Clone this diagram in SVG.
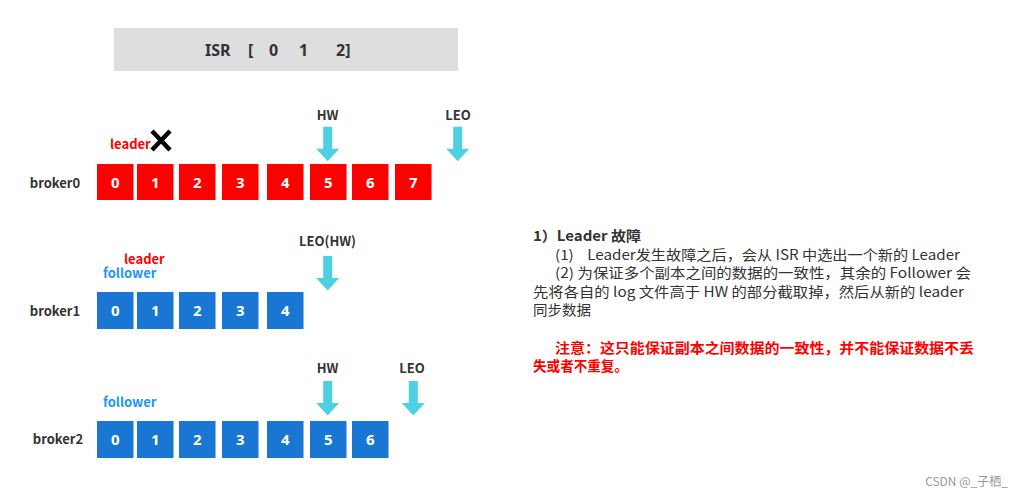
<svg xmlns="http://www.w3.org/2000/svg" width="1023" height="497" viewBox="0 0 1023 497">
<style>
text{font-family:"Noto Sans CJK SC","Liberation Sans",sans-serif}
.r{fill:#FF0000}
.b{fill:#1976D2}
.n{fill:#fff;font-size:15px;font-weight:bold;text-anchor:middle;font-family:"Noto Sans","Liberation Sans",sans-serif}
.lbl{fill:#333;font-size:13px;font-weight:bold;text-anchor:middle}
.ptr{fill:#333;font-size:13px;font-weight:bold;text-anchor:middle}
.ar{fill:#4DD0E1}
.t{fill:#333;font-size:14px}
.red{fill:#FF0000;font-size:14px;font-weight:bold}
.isr{fill:#333;font-size:16px;font-weight:bold;font-family:"Noto Sans","Liberation Sans",sans-serif}
</style>
<defs>
<path id="arr" class="ar" d="M-4.5,0 H4.5 V22 H11.5 L0,34.5 L-11.5,22 H-4.5 Z"/>
</defs>
<rect width="1023" height="497" fill="#fff"/>
<g id="isr">
<rect x="114" y="28" width="344" height="43" fill="#DEDEDE"/>
<text class="isr" y="56"><tspan x="205">ISR</tspan><tspan x="248">[</tspan><tspan x="269">0</tspan><tspan x="299">1</tspan><tspan x="336">2]</tspan></text>
</g>
<g id="broker0">
<text class="lbl" x="55" y="188">broker0</text>
<text x="110" y="149" fill="#FF0000" font-size="13" font-weight="bold">leader</text>
<path d="M152,131 L170,150 M170,131 L152,150" stroke="#000" stroke-width="4.5"/>
<rect class="r" x="97" y="164" width="36.5" height="36"/><text class="n" x="115.3" y="187.5">0</text>
<rect class="r" x="137" y="164" width="36.5" height="36"/><text class="n" x="155.3" y="187.5">1</text>
<rect class="r" x="179" y="164" width="36.5" height="36"/><text class="n" x="197.3" y="187.5">2</text>
<rect class="r" x="222" y="164" width="36.5" height="36"/><text class="n" x="240.3" y="187.5">3</text>
<rect class="r" x="267" y="164" width="36.5" height="36"/><text class="n" x="285.3" y="187.5">4</text>
<rect class="r" x="310" y="164" width="36.5" height="36"/><text class="n" x="328.3" y="187.5">5</text>
<rect class="r" x="352" y="164" width="36.5" height="36"/><text class="n" x="370.3" y="187.5">6</text>
<rect class="r" x="395" y="164" width="36.5" height="36"/><text class="n" x="413.3" y="187.5">7</text>
<text class="ptr" x="327.5" y="120">HW</text>
<text class="ptr" x="458" y="120">LEO</text>
</g>
<g id="broker1">
<text class="lbl" x="55" y="316">broker1</text>
<text x="124" y="264" fill="#FF0000" font-size="13" font-weight="bold">leader</text>
<text x="103" y="278" fill="#2196F3" font-size="13" font-weight="bold">follower</text>
<rect class="b" x="97" y="292" width="36.5" height="37"/><text class="n" x="115.3" y="316">0</text>
<rect class="b" x="137" y="292" width="36.5" height="37"/><text class="n" x="155.3" y="316">1</text>
<rect class="b" x="179" y="292" width="36.5" height="37"/><text class="n" x="197.3" y="316">2</text>
<rect class="b" x="222" y="292" width="36.5" height="37"/><text class="n" x="240.3" y="316">3</text>
<rect class="b" x="267" y="292" width="36.5" height="37"/><text class="n" x="285.3" y="316">4</text>
<text class="ptr" x="327.5" y="246">LEO(HW)</text>
</g>
<g id="broker2">
<text class="lbl" x="58" y="444">broker2</text>
<text x="103" y="407" fill="#2196F3" font-size="13" font-weight="bold">follower</text>
<rect class="b" x="97" y="421" width="36.5" height="37"/><text class="n" x="115.3" y="445">0</text>
<rect class="b" x="137" y="421" width="36.5" height="37"/><text class="n" x="155.3" y="445">1</text>
<rect class="b" x="179" y="421" width="36.5" height="37"/><text class="n" x="197.3" y="445">2</text>
<rect class="b" x="222" y="421" width="36.5" height="37"/><text class="n" x="240.3" y="445">3</text>
<rect class="b" x="267" y="421" width="36.5" height="37"/><text class="n" x="285.3" y="445">4</text>
<rect class="b" x="310" y="421" width="36.5" height="37"/><text class="n" x="328.3" y="445">5</text>
<rect class="b" x="352" y="421" width="36.5" height="37"/><text class="n" x="370.3" y="445">6</text>
<text class="ptr" x="327.5" y="373">HW</text>
<text class="ptr" x="412" y="373">LEO</text>
</g>
<g id="connectors">
<use href="#arr" x="327.7" y="126.7"/>
<use href="#arr" x="457.7" y="126.7"/>
<use href="#arr" x="327.7" y="256"/>
<use href="#arr" x="327.7" y="381"/>
<use href="#arr" x="413.3" y="381"/>
</g>
<g id="notes">
<text class="t" x="533" y="241" font-weight="bold" textLength="108" lengthAdjust="spacingAndGlyphs">1）Leader 故障</text>
<text class="t" x="555" y="260" textLength="405" lengthAdjust="spacingAndGlyphs" xml:space="preserve">(1)    Leader发生故障之后，会从 ISR 中选出一个新的 Leader</text>
<text class="t" x="555" y="278" textLength="416" lengthAdjust="spacingAndGlyphs">(2) 为保证多个副本之间的数据的一致性，其余的 Follower 会</text>
<text class="t" x="533" y="297" textLength="431" lengthAdjust="spacingAndGlyphs">先将各自的 log 文件高于 HW 的部分截取掉，然后从新的 leader</text>
<text class="t" x="533" y="315" textLength="58" lengthAdjust="spacingAndGlyphs">同步数据</text>
<text class="red" x="555" y="353" textLength="419" lengthAdjust="spacingAndGlyphs">注意：这只能保证副本之间数据的一致性，并不能保证数据不丢</text>
<text class="red" x="533" y="371" textLength="95" lengthAdjust="spacingAndGlyphs">失或者不重复。</text>
</g>
<text x="1008" y="486" fill="#999" font-size="12" text-anchor="end">CSDN @_子栖_</text>
</svg>
